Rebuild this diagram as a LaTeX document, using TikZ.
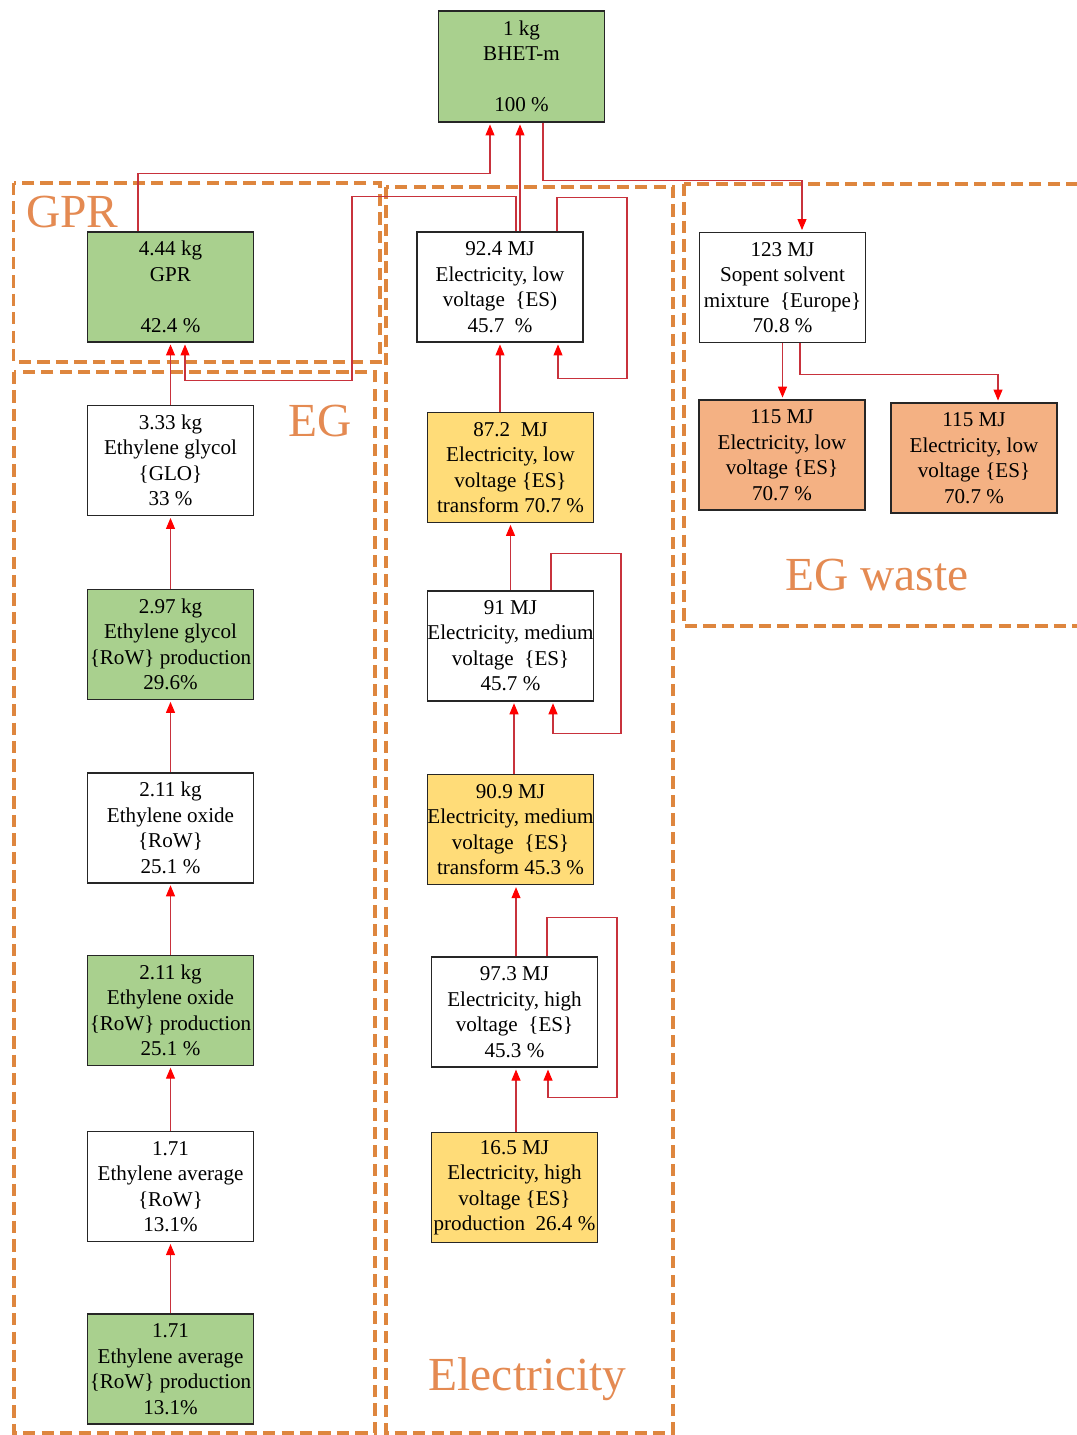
\documentclass[tikz,border=0pt]{standalone}
\usepackage{fontspec}
\setmainfont{Liberation Serif}
\usetikzlibrary{arrows.meta,positioning,calc}
\definecolor{boxgreen}{RGB}{169,208,142}
\definecolor{boxyellow}{RGB}{255,220,120}
\definecolor{boxorange}{RGB}{244,177,131}
\definecolor{zoneorange}{RGB}{222,134,62}
\definecolor{labelorange}{RGB}{228,138,82}
\definecolor{flowred}{RGB}{200,50,60}

\begin{document}
\begin{tikzpicture}[
  block/.style={draw=black!85,line width=0.8pt,minimum width=3.32cm,minimum height=2.2cm,inner xsep=0pt,align=center,font=\fontsize{12}{14.5}\selectfont},
  arrow/.style={-{Triangle[length=2.2mm,width=1.8mm,color=red]},draw=flowred,line width=0.6pt,shorten >=1pt},
  zone/.style={draw=zoneorange,line width=2.2pt,dash pattern=on 7pt off 3.5pt},
  zonelabel/.style={text=labelorange,font=\fontsize{27}{30}\selectfont,anchor=base},
  node distance=1.42cm
]
\useasboundingbox (0,0) rectangle (21.52,-28.7);

% dashed groups
\draw[zone] (0.27,-3.66) rectangle (7.60,-7.24);
\draw[zone] (0.28,-7.44) rectangle (7.50,-28.66);
\draw[zone] (7.72,-3.74) rectangle (13.46,-28.66);
\draw[zone] (13.68,-3.68) rectangle (21.70,-12.52);
\node[zonelabel] (lgpr) at (1.45,-4.56) {GPR};
\node[zonelabel] (leg) at (6.40,-8.72) {EG};
\node[zonelabel] (lel) at (10.55,-27.80) {Electricity};
\node[zonelabel] (lwaste) at (17.54,-11.80) {EG waste};

% top
\node[block,fill=boxgreen,minimum height=2.22cm] (bhet) at (10.43,-1.33) {1 kg\\BHET-m\\[14.5pt]100 \%};
\node[block,fill=boxgreen] (gpr) at (3.41,-5.74) {4.44 kg\\GPR\\[14.5pt]42.4 \%};

% EG column
\node[block] (eg) at (3.41,-9.21) {3.33 kg\\Ethylene glycol\\\{GLO\}\\33 \%};
\node[block,fill=boxgreen,below=1.45cm of eg] (egp) {2.97 kg\\Ethylene glycol\\\{RoW\} production\\29.6\%};
\node[block,below=1.44cm of egp] (eo) {2.11 kg\\Ethylene oxide\\\{RoW\}\\25.1 \%};
\node[block,fill=boxgreen,below=1.42cm of eo] (eop) {2.11 kg\\Ethylene oxide\\\{RoW\} production\\25.1 \%};
\node[block,below=1.30cm of eop] (eth) {1.71\\Ethylene average\\\{RoW\}\\13.1\%};
\node[block,fill=boxgreen,below=1.42cm of eth] (ethp) {1.71\\Ethylene average\\\{RoW\} production\\13.1\%};

% electricity column
\node[block] (elow) at (10.00,-5.74) {92.4 MJ\\Electricity, low\\voltage \ \{ES)\\45.7 \ \%};
\node[block,fill=boxyellow,below=1.38cm of elow,xshift=0.21cm] (elowt) {87.2 \ MJ\\Electricity, low\\voltage \{ES\}\\transform 70.7 \%};
\node[block,below=1.34cm of elowt] (emed) {91 MJ\\Electricity, medium\\voltage \ \{ES\}\\45.7 \%};
\node[block,fill=boxyellow,below=1.45cm of emed] (emedt) {90.9 MJ\\Electricity, medium\\voltage \ \{ES\}\\transform 45.3 \%};
\node[block,below=1.42cm of emedt,xshift=0.08cm] (ehigh) {97.3 MJ\\Electricity, high\\voltage \ \{ES\}\\45.3 \%};
\node[block,fill=boxyellow,below=1.28cm of ehigh] (ehighp) {16.5 MJ\\Electricity, high\\voltage \{ES\}\\production \ 26.4 \%};

% EG waste
\node[block] (solv) at (15.65,-5.75) {123 MJ\\Sopent solvent\\mixture \ \{Europe\}\\70.8 \%};
\node[block,fill=boxorange] (wastea) at (15.64,-9.10) {115 MJ\\Electricity, low\\voltage \{ES\}\\70.7 \%};
\node[block,fill=boxorange] (wasteb) at (19.48,-9.16) {115 MJ\\Electricity, low\\voltage \{ES\}\\70.7 \%};

% flows
\draw[arrow] ([xshift=-0.65cm]gpr.north) -- ++(0,1.16) -| ([xshift=-0.63cm]bhet.south);
\draw[arrow] ([xshift=0.40cm]elow.north) -- ([xshift=-0.03cm]bhet.south);
\draw[arrow] ([xshift=0.43cm]bhet.south) -- ++(0,-1.16) -| ([xshift=0.39cm]solv.north);
\draw[arrow] ([xshift=0.32cm]elow.north) -- ++(0,0.70) -- ++(-3.28,0) -- ++(0,-3.68) -| ([xshift=0.29cm]gpr.south);
\draw[arrow] ([xshift=1.14cm]elow.north) -- ++(0,0.68) -- ++(1.40,0) -- ++(0,-3.62) -| ([xshift=1.16cm]elow.south);
\draw[arrow] (eg.north) -- (gpr.south);
\foreach \a/\b in {egp/eg,eo/egp,eop/eo,eth/eop,ethp/eth}
  \draw[arrow] (\a.north) -- (\b.south);
\draw[arrow] (elow.south |- elowt.north) -- (elow.south);
\draw[arrow] (emed.north) -- (elowt.south);
\draw[arrow] ([xshift=0.81cm]emed.north) -- ++(0,0.74) -- ++(1.40,0) -- ++(0,-3.60) -| ([xshift=0.85cm]emed.south);
\draw[arrow] ([xshift=0.07cm]emedt.north) -- ([xshift=0.07cm]emed.south);
\draw[arrow] ([xshift=0.03cm]ehigh.north) -- ([xshift=0.11cm]emedt.south);
\draw[arrow] ([xshift=0.65cm]ehigh.north) -- ++(0,0.77) -- ++(1.40,0) -- ++(0,-3.60) -| ([xshift=0.67cm]ehigh.south);
\draw[arrow] ([xshift=0.03cm]ehighp.north) -- ([xshift=0.03cm]ehigh.south);
\draw[arrow] (solv.south) -- (solv.south |- wastea.north);
\draw[arrow] ([xshift=0.35cm]solv.south) -- ++(0,-0.63) -| ([xshift=0.48cm]wasteb.north);
\end{tikzpicture}
\end{document}
